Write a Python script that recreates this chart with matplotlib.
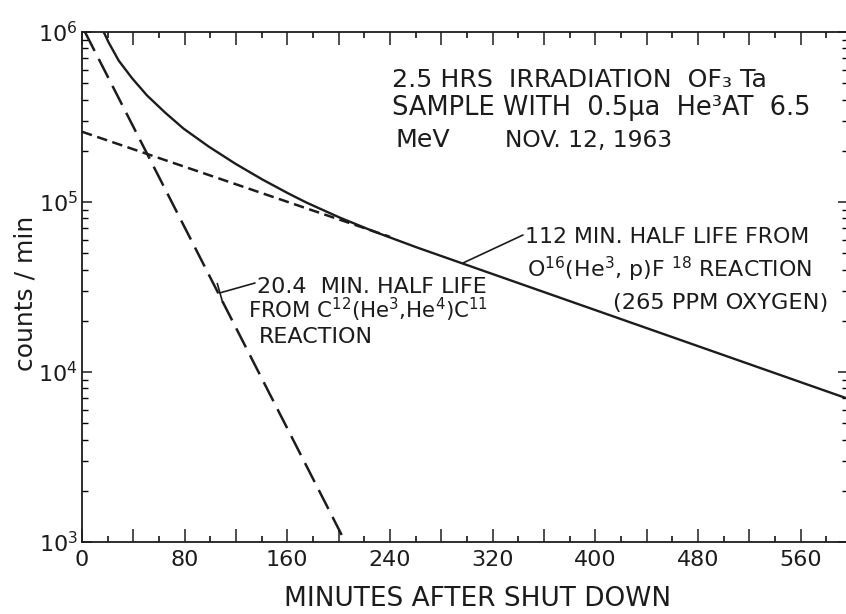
import matplotlib
matplotlib.use("Agg")
import matplotlib.pyplot as plt
from matplotlib.ticker import MultipleLocator, FixedLocator, LogLocator, NullFormatter

# ---------------- data ----------------
SOLID_MIN = [16.9, 20.8, 28.6, 39.0, 50.6, 64.9, 79.2, 98.7, 119.5, 140.3,
             161.1, 175.1, 201.0, 227.0, 260.8, 595.3]
SOLID_CPM = [1.0e6, 8.67e5, 6.79e5, 5.35e5, 4.24e5, 3.35e5, 2.70e5, 2.12e5,
             1.68e5, 1.36e5, 1.12e5, 9.91e4, 8.09e4, 6.73e4, 5.41e4, 7.03e3]
F18_MIN = [0.0, 240.0]          # 112 min half-life component
F18_CPM = [2.59e5, 6.24e4]
C11_MIN = [2.3, 202.4]          # 20.4 min half-life component
C11_CPM = [1.0e6, 1.1e3]
X_TICK_LABELS = [0, 80, 160, 240, 320, 400, 480, 560]
Y_DECADES = [1e3, 1e4, 1e5, 1e6]
Y_DECADE_LABELS = [r"$10^{3}$", r"$10^{4}$", r"$10^{5}$", r"$10^{6}$"]

INK = "#1c1c1c"
W, H = 846, 614

plt.rcParams["font.family"] = ["DejaVu Sans"]
plt.rcParams["mathtext.fontset"] = "dejavusans"

fig = plt.figure(figsize=(W / 100, H / 100), dpi=100)
fig.patch.set_facecolor("white")

left_px, right_px, top_px, bot_px = 82, 848, 32, 542
ax = fig.add_axes([left_px / W, 1 - bot_px / H,
                   (right_px - left_px) / W, (bot_px - top_px) / H])
ax.set_facecolor("white")
ax.set_yscale("log")
ax.set_xlim(0, 597)
ax.set_ylim(1e3, 1e6)

# curves
ax.plot(SOLID_MIN, SOLID_CPM, color=INK, lw=1.7, solid_capstyle="butt",
        solid_joinstyle="round")
ax.plot(F18_MIN, F18_CPM, color=INK, lw=1.8, dashes=(4.2, 2.2))
ax.plot(C11_MIN, C11_CPM, color=INK, lw=1.8, dashes=(8.5, 3.6))

# spines
for s in ["left", "bottom", "top"]:
    ax.spines[s].set_linewidth(1.3)
    ax.spines[s].set_color(INK)
ax.spines["right"].set_visible(False)

# x ticks (bottom and top, long every 40, short every 20)
xt = list(range(0, 600, 40))
ax.set_xticks(xt)
ax.set_xticklabels([str(v) if v in X_TICK_LABELS else "" for v in xt])
ax.xaxis.set_minor_locator(MultipleLocator(20))
ax.tick_params(axis="x", which="major", direction="in", length=9.5, width=1.1,
               top=True, bottom=True, labelsize=16, pad=6, colors=INK)
ax.tick_params(axis="x", which="minor", direction="in", length=4.5, width=1.1,
               top=True, bottom=True)

# y ticks
ax.yaxis.set_major_locator(FixedLocator(Y_DECADES))
ax.set_yticklabels(Y_DECADE_LABELS)
ax.yaxis.set_minor_locator(LogLocator(base=10, subs=range(2, 10)))
ax.yaxis.set_minor_formatter(NullFormatter())
ax.tick_params(axis="y", which="major", direction="in", length=7.5, width=1.1,
               left=True, right=True, labelsize=16, pad=3, colors=INK)
ax.tick_params(axis="y", which="minor", direction="in", length=4.0, width=1.0,
               left=True, right=True)

# axis labels
ax.set_xlabel("MINUTES AFTER SHUT DOWN", fontsize=19, color=INK, va="center")
ax.xaxis.set_label_coords((478 - left_px) / (right_px - left_px),
                          (bot_px - 599) / (bot_px - top_px))
ax.set_ylabel("counts / min", fontsize=18, color=INK, va="center")
ax.yaxis.set_label_coords((25 - left_px) / (right_px - left_px),
                          (bot_px - 293) / (bot_px - top_px))


def ftext(px, py, s, size):
    fig.text(px / W, 1 - py / H, s, fontsize=size, color=INK,
             ha="left", va="baseline")


# irradiation note
ftext(392, 87, "2.5 HRS  IRRADIATION  OF\u2083 Ta", 18.2)
ftext(392, 115, "SAMPLE WITH  0.5\u03bca  He\u00b3AT  6.5", 18.5)
ftext(395, 147, "MeV", 18.2)
ftext(505, 147, "NOV. 12, 1963", 16.8)

# 112 min note
ftext(525, 243, "112 MIN. HALF LIFE FROM", 15.8)
ftext(527, 277, r"O$^{16}$(He$^{3}$, p)F $^{18}$ REACTION", 15.9)
ftext(613, 309, "(265 PPM OXYGEN)", 16.2)

# 20.4 min note
ftext(257, 293, "20.4  MIN. HALF LIFE", 16)
ftext(248, 318, r"FROM C$^{12}$(He$^{3}$,He$^{4}$)C$^{11}$", 15.3)
ftext(259, 343, "REACTION", 16)

# leader lines
ax.annotate("", xy=(297, 4.38e4), xycoords="data",
            xytext=(523 / W, 1 - 235 / H), textcoords="figure fraction",
            arrowprops=dict(arrowstyle="-", color=INK, lw=1.2,
                            shrinkA=0, shrinkB=0))
ax.annotate("", xy=(107.5, 2.92e4), xycoords="data",
            xytext=(255 / W, 1 - 283 / H), textcoords="figure fraction",
            arrowprops=dict(arrowstyle="-[, widthB=0.7, lengthB=0",
                            mutation_scale=10, color=INK, lw=1.2,
                            shrinkA=0, shrinkB=0))

fig.savefig("out.png", dpi=100, facecolor="white")
